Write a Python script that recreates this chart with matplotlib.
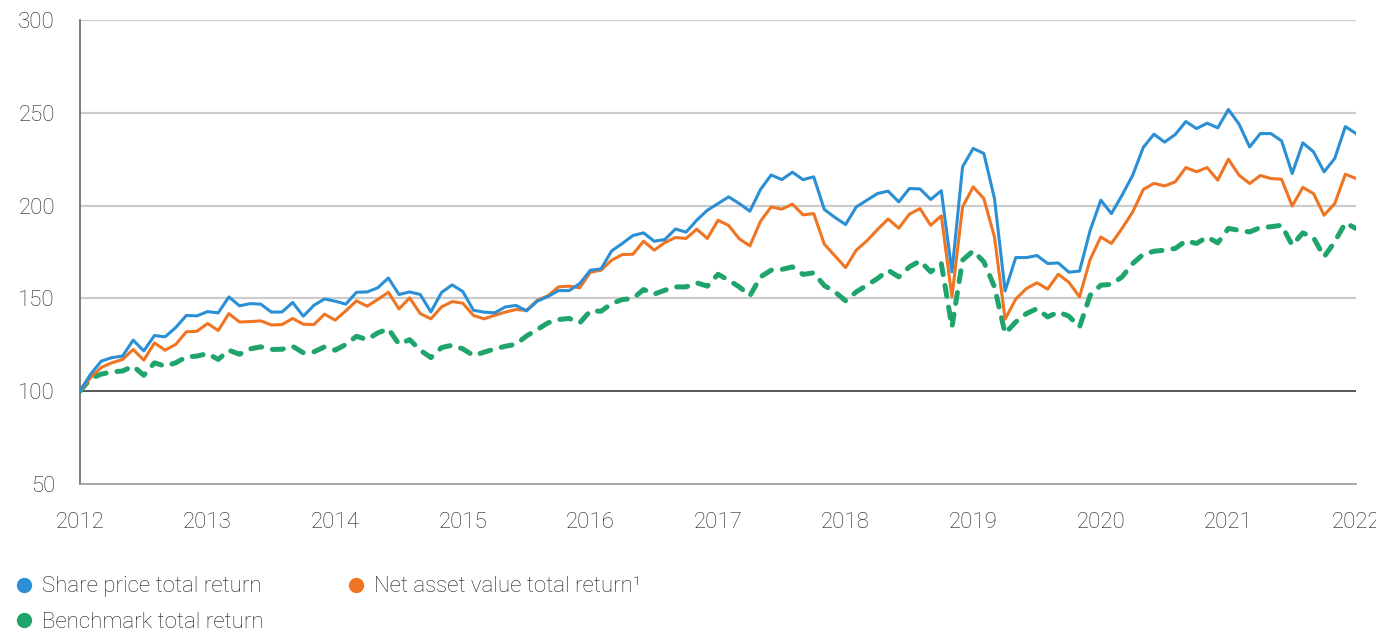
import numpy as np
import matplotlib.pyplot as plt
from matplotlib.lines import Line2D

# ============================================================
# Data (monthly, rebased to 100 at start of 2012)
# ============================================================
year_ticks = [2012, 2013, 2014, 2015, 2016, 2017, 2018, 2019, 2020, 2021, 2022]
y_ticks = [50, 100, 150, 200, 250, 300]

share_price = [
    100, 109.2, 116.2, 118.1, 118.9, 127.5, 121.7, 130.0, 129.3, 134.3, 140.8, 140.6,
    142.9, 142.2, 150.8, 146.0, 147.2, 146.9, 142.6, 142.7, 147.8, 140.4, 146.3, 149.7,
    148.5, 146.9, 153.3, 153.5, 155.7, 161.0, 152.1, 153.5, 152.1, 142.7, 153.2, 157.3,
    153.7, 143.6, 142.6, 142.2, 145.4, 146.2, 143.3, 148.5, 151.0, 154.2, 154.2, 158.0,
    165.2, 165.9, 175.6, 179.6, 183.9, 185.3, 180.8, 181.7, 187.4, 185.7, 192.1, 197.5,
    201.1, 204.7, 201.1, 197.0, 208.7, 216.5, 214.0, 218.0, 214.0, 215.5, 197.9, 193.6,
    189.8, 199.3, 202.9, 206.5, 207.8, 202.0, 209.2, 209.0, 203.3, 208.0, 164.3, 220.9,
    230.8, 228.1, 203.8, 154.0, 172.0, 172.0, 173.1, 168.8, 169.1, 164.1, 164.7, 186.7,
    202.9, 195.7, 205.6, 216.4, 231.4, 238.5, 234.2, 238.3, 245.3, 241.5, 244.4, 241.9,
    251.8, 243.9, 231.6, 238.8, 238.8, 234.9, 217.3, 233.8, 229.0, 218.2, 225.4, 242.6,
    238.8,
]

nav = [
    100, 107.4, 112.8, 115.3, 117.1, 122.5, 116.7, 126.0, 122.1, 125.2, 132.0, 132.3,
    136.5, 132.7, 141.8, 137.3, 137.5, 137.9, 135.7, 135.9, 139.2, 136.1, 135.9, 141.5,
    138.3, 143.3, 148.7, 145.8, 149.4, 153.3, 144.3, 150.3, 141.8, 139.0, 145.4, 148.3,
    147.4, 140.8, 139.0, 140.9, 142.6, 144.0, 143.6, 149.0, 151.4, 156.2, 156.6, 155.7,
    164.1, 165.2, 170.6, 173.6, 173.8, 180.8, 176.0, 180.1, 182.8, 182.3, 187.3, 182.3,
    192.1, 189.3, 182.1, 178.3, 191.6, 199.3, 198.1, 200.8, 195.0, 195.7, 179.2, 172.9,
    166.6, 176.0, 181.0, 187.1, 192.8, 187.8, 195.4, 198.4, 189.4, 194.5, 150.8, 199.3,
    210.1, 203.8, 183.1, 138.8, 149.6, 155.3, 158.4, 155.0, 163.0, 158.7, 150.8, 171.0,
    183.1, 179.6, 187.7, 196.6, 208.7, 212.0, 210.6, 212.8, 220.5, 218.2, 220.5, 213.7,
    225.0, 216.4, 211.9, 216.2, 214.6, 214.2, 199.8, 209.8, 206.5, 194.8, 201.1, 216.9,
    214.6,
]

benchmark = [
    100, 106.8, 109.2, 110.4, 110.9, 113.5, 108.6, 115.3, 113.5, 115.3, 118.5, 118.9,
    120.3, 117.1, 122.1, 119.9, 122.8, 123.9, 122.5, 122.6, 124.2, 120.7, 121.2, 123.9,
    122.1, 125.2, 129.6, 127.8, 131.4, 133.6, 125.3, 127.8, 122.1, 118.1, 123.5, 124.8,
    122.8, 119.2, 121.0, 122.8, 124.2, 125.3, 129.8, 133.2, 136.8, 138.6, 139.2, 136.8,
    143.3, 143.1, 147.2, 149.4, 149.9, 154.8, 152.3, 154.4, 156.2, 156.2, 158.4, 156.6,
    163.0, 159.8, 156.2, 151.4, 161.6, 165.2, 165.6, 167.0, 162.9, 163.8, 156.9, 153.5,
    148.7, 153.5, 157.1, 160.7, 165.2, 161.6, 167.0, 170.2, 164.3, 168.8, 134.6, 170.6,
    175.6, 169.7, 156.2, 131.1, 137.3, 141.8, 144.5, 140.0, 142.7, 140.4, 134.6, 151.7,
    157.1, 157.6, 161.6, 168.8, 173.8, 175.4, 176.0, 176.9, 181.0, 179.6, 183.1, 179.9,
    187.7, 186.7, 185.8, 188.2, 188.6, 189.4, 178.7, 185.3, 182.8, 172.4, 180.5, 190.7,
    187.7,
]

labels = ["Share price total return", "Net asset value total return\u00b9",
          "Benchmark total return"]

# ============================================================
# Style
# ============================================================
BLUE = "#2a8fd4"
ORANGE = "#ef7523"
GREEN = "#1fa56c"
TEXT = "#1e1e1e"

plt.rcParams["font.family"] = ["Roboto", "DejaVu Sans"]
plt.rcParams["font.weight"] = "light"
plt.rcParams["font.size"] = 16


def main():
    x = 2012 + np.arange(len(share_price)) / 12.0

    fig = plt.figure(figsize=(13.76, 6.32), dpi=100)
    ax = fig.add_axes([80 / 1376, 1 - 484 / 632, 1276 / 1376, 464 / 632])

    for yv in [150, 200, 250, 300]:
        ax.axhline(yv, color="#cccccc", linewidth=1.6, zorder=1)
    ax.axhline(100, color="#2b2b2b", linewidth=1.1, zorder=1)

    ax.plot(x, benchmark, color=GREEN, linewidth=3.6, dashes=(2.2, 2.2),
            dash_capstyle="round", zorder=2)
    ax.plot(x, nav, color=ORANGE, linewidth=2.2, zorder=3)
    ax.plot(x, share_price, color=BLUE, linewidth=2.2, zorder=4)

    ax.set_xlim(2012, 2022)
    ax.set_ylim(50, 300)
    ax.set_xticks(year_ticks)
    ax.set_xticklabels([str(y) for y in year_ticks])
    ax.set_yticks(y_ticks)
    ax.tick_params(axis="both", length=0, labelsize=16, colors=TEXT)
    ax.tick_params(axis="x", pad=20)
    ax.tick_params(axis="y", pad=18)

    for side in ["top", "right"]:
        ax.spines[side].set_visible(False)
    ax.spines["left"].set_color("#666666")
    ax.spines["left"].set_linewidth(1.2)
    ax.spines["bottom"].set_color("#999999")
    ax.spines["bottom"].set_linewidth(1.2)

    # legend: row-wise order (share, nav) then (benchmark)
    def dot(c):
        return Line2D([], [], linestyle="none", marker="o", markersize=10,
                      markerfacecolor=c, markeredgecolor=c)

    handles = [dot(BLUE), dot(GREEN), dot(ORANGE)]
    leg_labels = [labels[0], labels[2], labels[1]]
    fig.legend(handles, leg_labels, ncol=2, loc="upper left",
               bbox_to_anchor=(0.0, 1 - 563 / 632), frameon=False,
               fontsize=16, handletextpad=0.3, columnspacing=3.65,
               labelspacing=0.65, handlelength=1.0, labelcolor=TEXT,
               borderpad=0.1)

    fig.savefig("out.png", dpi=100)
    plt.close(fig)


if __name__ == "__main__":
    main()
